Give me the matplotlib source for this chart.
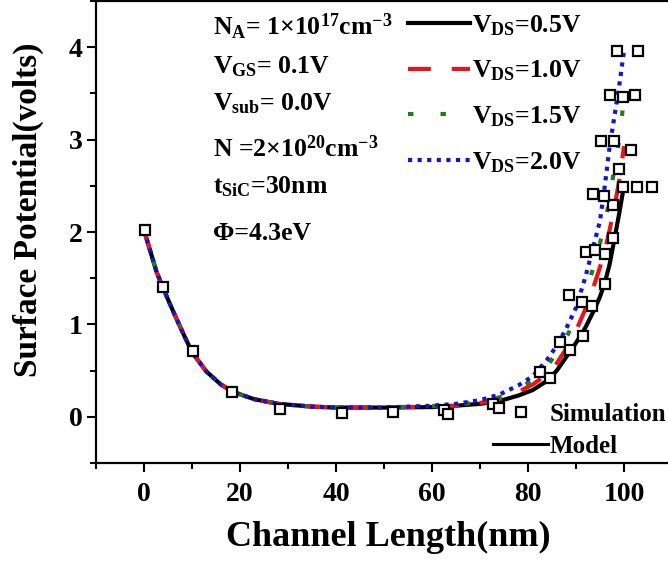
import matplotlib
matplotlib.use("Agg")
import matplotlib.pyplot as plt
from matplotlib.lines import Line2D
from matplotlib.ticker import MultipleLocator

plt.rcParams["font.family"] = ["Liberation Serif", "DejaVu Serif"]
plt.rcParams["font.weight"] = "bold"
plt.rcParams["mathtext.fontset"] = "custom"
plt.rcParams["mathtext.rm"] = "Liberation Serif:bold"
plt.rcParams["mathtext.it"] = "Liberation Serif:bold"
plt.rcParams["mathtext.bf"] = "Liberation Serif:bold"

# model curves: the left part is shared by all four bias values
LEFT_X = [0, 2.6, 4, 6, 8, 10, 13, 16, 18.5, 23, 28, 35]
LEFT_Y = [2.02, 1.57, 1.39, 1.15, 0.92, 0.70, 0.49, 0.35, 0.27, 0.19, 0.14, 0.11]

RIGHT_X = [40, 50, 60, 65, 70, 74, 78, 81, 84, 86, 88, 90, 92, 94, 95, 96, 97, 98, 99, 100]
VDS_05 = [0.10, 0.10, 0.105, 0.12, 0.14, 0.17, 0.23, 0.29, 0.39, 0.50, 0.65, 0.80,
          0.97, 1.18, 1.30, 1.45, 1.65, 1.92, 2.20, 2.50]
VDS_10 = [0.10, 0.10, 0.11, 0.12, 0.15, 0.19, 0.27, 0.35, 0.46, 0.58, 0.74, 0.93,
          1.17, 1.46, 1.62, 1.80, 2.02, 2.27, 2.55, 2.93]
VDS_15 = [0.10, 0.10, 0.115, 0.13, 0.16, 0.21, 0.30, 0.40, 0.55, 0.69, 0.86, 1.07,
          1.34, 1.68, 1.88, 2.10, 2.35, 2.70, 3.00, 3.45]
VDS_20 = [0.10, 0.10, 0.12, 0.14, 0.18, 0.24, 0.34, 0.44, 0.62, 0.77, 0.96, 1.18,
          1.52, 1.92, 2.12, 2.50, 2.92, 3.25, 3.58, 3.96]

SIM_X = [0.2, 4.0, 10.3, 18.3, 28.3, 41.2, 51.9, 62.4, 63.4, 72.8, 74.0, 82.5, 84.6,
         86.7, 88.75, 88.6, 91.5, 91.3, 93.4, 96.1, 92.0, 94.0, 96.0, 97.8, 97.8,
         93.6, 95.8, 99.0, 99.7, 102.8, 105.9, 95.3, 98.0, 101.4, 97.1, 99.7, 102.3,
         98.5, 103.0]
SIM_Y = [2.02, 1.41, 0.71, 0.27, 0.08, 0.04, 0.05, 0.07, 0.03, 0.14, 0.10, 0.48, 0.42,
         0.81, 0.72, 1.32, 0.87, 1.24, 1.20, 1.44, 1.78, 1.81, 1.76, 1.94, 2.29,
         2.41, 2.39, 2.68, 2.49, 2.49, 2.49, 2.99, 2.99, 2.89, 3.48, 3.46, 3.48,
         3.96, 3.96]

SERIES = [
    ("V$_{\\rm DS}$=0.5V", VDS_05, "black", "-"),
    ("V$_{\\rm DS}$=1.0V", VDS_10, "#e8141c", (0, (5.5, 5))),
    ("V$_{\\rm DS}$=1.5V", VDS_15, "#1e7d1e", (0, (1.3, 6.5))),
    ("V$_{\\rm DS}$=2.0V", VDS_20, "#1515d0", (0, (1, 1.3))),
]

NOTES = [
    ("N$_{\\rm A}$= 1×10$^{17}$cm$^{-3}$", 35),
    ("V$_{\\rm GS}$= 0.1V", 73),
    ("V$_{\\rm sub}$= 0.0V", 110),
    ("N =2×10$^{20}$cm$^{-3}$", 157),
    ("t$_{\\rm SiC}$=30nm", 193),
    ("Φ=4.3eV", 240),
]

W, H = 668, 568
fig = plt.figure(figsize=(W / 100, H / 100), dpi=100)
ax = fig.add_axes([96 / W, 105 / H, 576 / W, 462 / H])

handles = []
for label, ys, color, ls in SERIES:
    line, = ax.plot(LEFT_X + RIGHT_X, LEFT_Y + ys, color=color, linestyle=ls,
                    linewidth=3.0, label=label, zorder=2)
    handles.append(line)

ax.plot(SIM_X, SIM_Y, linestyle="none", marker="s", markersize=7.5,
        markerfacecolor="white", markeredgecolor="black", markeredgewidth=1.6,
        zorder=3, clip_on=False)

ax.set_xlim(-10, 110)
ax.set_ylim(-0.5, 4.5)
ax.xaxis.set_major_locator(MultipleLocator(20))
ax.xaxis.set_minor_locator(MultipleLocator(10))
ax.yaxis.set_major_locator(MultipleLocator(1))
ax.yaxis.set_minor_locator(MultipleLocator(0.5))
ax.tick_params(which="both", direction="out", width=1.5)
ax.tick_params(which="major", length=6.5, labelsize=20)
ax.tick_params(which="minor", length=4)
ax.tick_params(axis="x", pad=7)
ax.tick_params(axis="y", pad=3)
ax.spines["right"].set_visible(False)
for side in ("left", "bottom", "top"):
    ax.spines[side].set_linewidth(1.6)

ax.set_xlabel("Channel Length(nm)", fontsize=26, fontweight="bold")
ax.set_ylabel("Surface Potential(volts)", fontsize=24, fontweight="bold")
ax.xaxis.set_label_coords((388 - 96) / 576, (568 - 521 - 105) / 462)
ax.yaxis.set_label_coords((44 - 96) / 576, (568 - 210 - 105) / 462)

for text, baseline in NOTES:
    fig.text(213 / W, 1 - baseline / H, text, fontsize=18.5, fontweight="bold",
             ha="left", va="baseline")

leg1 = ax.legend(handles=handles, loc="upper left", bbox_to_anchor=(408 / W, 1 - 13 / H),
                 bbox_transform=fig.transFigure, frameon=False, fontsize=18.5,
                 handlelength=2.4, handletextpad=0.1, labelspacing=0.82,
                 borderpad=0, borderaxespad=0)
ax.add_artist(leg1)

sim_handle = Line2D([], [], linestyle="none", marker="s", markersize=7.5,
                    markerfacecolor="white", markeredgecolor="black", markeredgewidth=1.6)
model_handle = Line2D([], [], color="black", linewidth=2.2)
ax.legend([sim_handle, model_handle], ["Simulation", "Model"], loc="upper left",
          bbox_to_anchor=(493 / W, 1 - 403 / H), bbox_transform=fig.transFigure,
          frameon=False, fontsize=18, handlelength=2.2, handletextpad=0.05,
          labelspacing=0.35, borderpad=0, borderaxespad=0)

fig.savefig("out.png", dpi=100)
